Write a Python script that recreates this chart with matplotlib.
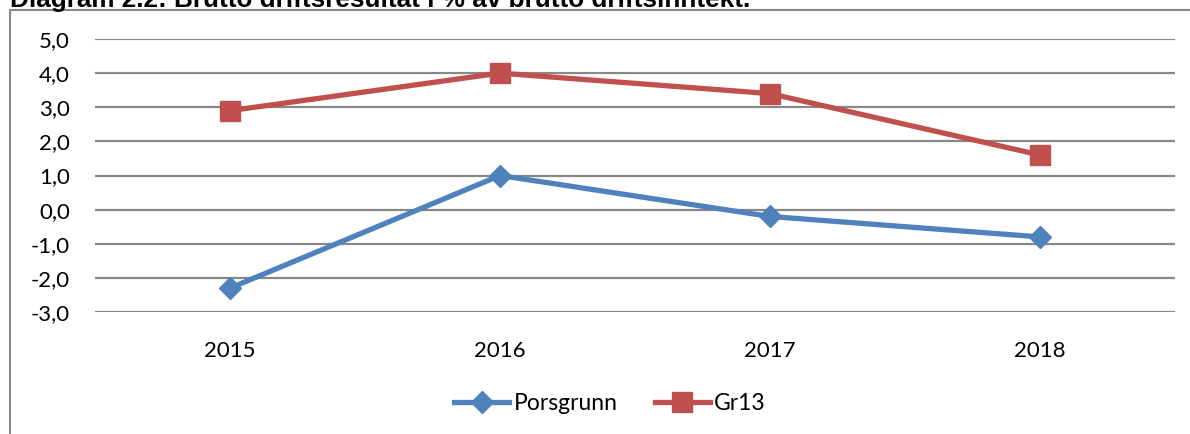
import matplotlib.pyplot as plt
from matplotlib.patches import Rectangle

years = ["2015", "2016", "2017", "2018"]
porsgrunn = [-2.3, 1.0, -0.2, -0.8]
gr13 = [2.9, 4.0, 3.4, 1.6]
yticks = [-3, -2, -1, 0, 1, 2, 3, 4, 5]

W, H = 1190, 434
fig = plt.figure(figsize=(W / 100, H / 100), dpi=100)
plt.rcParams['font.family'] = ['Lato', 'DejaVu Sans']

# plot area in pixels: x 95..1175, y 39..312
ax = fig.add_axes([95 / W, 1 - 312 / H, (1175 - 95) / W, (312 - 39) / H])

x = range(len(years))
ax.plot(x, porsgrunn, color='#4F81BD', lw=3.8, marker='D', ms=11,
        label='Porsgrunn', zorder=3)
ax.plot(x, gr13, color='#C0504D', lw=3.8, marker='s', ms=14,
        label='Gr13', zorder=3)

ax.set_xlim(-0.5, 3.5)
ax.set_ylim(-3, 5)
ax.set_xticks(list(x))
ax.set_xticklabels(years)
ax.set_yticks(yticks)
ax.set_yticklabels([f"{v:.1f}".replace('.', ',') for v in yticks])
ax.tick_params(length=0, labelsize=16, colors='black')
ax.tick_params(axis='y', pad=18)
ax.tick_params(axis='x', pad=21)
for s in ax.spines.values():
    s.set_visible(False)
ax.yaxis.grid(True, color='#888888', lw=1.6)
ax.set_axisbelow(True)

fig.legend(loc='center', bbox_to_anchor=(610 / W, 1 - 404 / H), ncol=2,
           frameon=False, fontsize=16.5, handlelength=2.4, handletextpad=0.2,
           columnspacing=1.6)

# ramme rundt diagrammet
fig.patches.append(Rectangle((9.5 / W, -0.2), 1.0, 1.2 - 10.5 / H,
                             transform=fig.transFigure, fill=False,
                             edgecolor='#878787', lw=1.5))

fig.text(10 / W, 1 - 6.5 / H, "Diagram 2.2: Brutto driftsresultat i % av brutto driftsinntekt.",
         fontsize=18.8, fontweight='bold', family='Liberation Sans', va='baseline')

fig.savefig('out.png', dpi=100)
